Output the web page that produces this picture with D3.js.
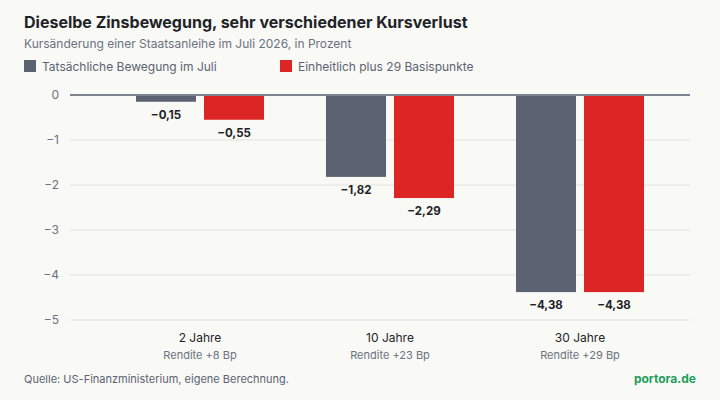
<!DOCTYPE html>
<html>
<head>
<meta charset="utf-8">
<script src="https://cdn.jsdelivr.net/npm/d3@7"></script>
<style>
  body { margin: 0; background: #f9f9f6; }
  svg { display: block; font-family: Inter, "Noto Sans", sans-serif; }
</style>
</head>
<body>
<svg id="chart" width="720" height="400"></svg>
<script>
// data
let categories = ["2 Jahre", "10 Jahre", "30 Jahre"];
let subLabels = ["Rendite +8 Bp", "Rendite +23 Bp", "Rendite +29 Bp"];
let seriesNames = ["Tatsächliche Bewegung im Juli", "Einheitlich plus 29 Basispunkte"];
let actual = [-0.15, -1.82, -4.38];
let uniform = [-0.55, -2.29, -4.38];
let yTicks = [0, -1, -2, -3, -4, -5];

let colors = ["#5b6372", "#dc2626"];
let svg = d3.select("#chart");

svg.append("rect").attr("width", 720).attr("height", 400).attr("fill", "#f9f9f6");

// header
svg.append("text").attr("x", 24).attr("y", 28)
  .attr("font-size", 16).attr("font-weight", 700).attr("fill", "#1f2328")
  .text("Dieselbe Zinsbewegung, sehr verschiedener Kursverlust");
svg.append("text").attr("x", 24).attr("y", 48)
  .attr("font-size", 12).attr("fill", "#6b7280")
  .text("Kursänderung einer Staatsanleihe im Juli 2026, in Prozent");

let legendX = [24, 280];
let legend = svg.selectAll(".legend").data(seriesNames).enter().append("g")
  .attr("transform", (d, i) => "translate(" + legendX[i] + ",60)");
legend.append("rect").attr("width", 12).attr("height", 12).attr("fill", (d, i) => colors[i]);
legend.append("text").attr("x", 18).attr("y", 10.5)
  .attr("font-size", 12).attr("fill", "#5b6372").text(d => d);

// scales
let x = d3.scaleBand().domain(categories).range([105, 675]);
let y = d3.scaleLinear().domain([0, -5]).range([95, 320]);
let inner = d3.scaleBand().domain([0, 1]).range([0, 128]).paddingInner(8 / 68);

// grid
svg.append("g").selectAll("line").data(yTicks.filter(t => t !== 0)).enter().append("line")
  .attr("x1", 70).attr("x2", 690)
  .attr("y1", d => y(d)).attr("y2", d => y(d))
  .attr("stroke", "#eaeae5").attr("stroke-width", 1.5);

let yAxis = svg.append("g").attr("transform", "translate(62,0)")
  .call(d3.axisLeft(y).tickValues(yTicks).tickSize(0).tickFormat(d => d3.format("d")(d).replace("-", "\u2212")));
yAxis.select(".domain").remove();
yAxis.selectAll("text").attr("font-size", 12).attr("fill", "#6b7280").attr("font-family", "Inter, sans-serif");

// bars
let rows = categories.map((c, i) => ({ c: c, vals: [actual[i], uniform[i]] }));
let groups = svg.selectAll(".grp").data(rows).enter().append("g")
  .attr("transform", d => "translate(" + (x(d.c) + x.bandwidth() / 2 - 64) + ",0)");

groups.selectAll("rect").data(d => d.vals).enter().append("rect")
  .attr("x", (d, i) => inner(i))
  .attr("y", y(0))
  .attr("width", inner.bandwidth())
  .attr("height", d => y(d) - y(0))
  .attr("fill", (d, i) => colors[i]);

groups.selectAll(".val").data(d => d.vals).enter().append("text")
  .attr("x", (d, i) => inner(i) + inner.bandwidth() / 2)
  .attr("y", d => y(d) + 17)
  .attr("text-anchor", "middle").attr("font-size", 11.5).attr("font-weight", 700)
  .attr("fill", "#1f2328")
  .text(d => d.toFixed(2).replace(".", ",").replace("-", "\u2212"));

// zero line
svg.append("line").attr("x1", 70).attr("x2", 690)
  .attr("y1", y(0)).attr("y2", y(0))
  .attr("stroke", "#7d8590").attr("stroke-width", 2);

// category labels
svg.selectAll(".cat").data(categories).enter().append("text")
  .attr("x", d => x(d) + x.bandwidth() / 2).attr("y", 342)
  .attr("text-anchor", "middle").attr("font-size", 12).attr("fill", "#1f2328")
  .text(d => d);
svg.selectAll(".sub").data(subLabels).enter().append("text")
  .attr("x", (d, i) => x(categories[i]) + x.bandwidth() / 2).attr("y", 359)
  .attr("text-anchor", "middle").attr("font-size", 11).attr("fill", "#6b7280")
  .text(d => d);

// footer
svg.append("text").attr("x", 24).attr("y", 383)
  .attr("font-size", 11).attr("fill", "#5b6372")
  .text("Quelle: US-Finanzministerium, eigene Berechnung.");
svg.append("text").attr("x", 696).attr("y", 383).attr("text-anchor", "end")
  .attr("font-size", 12).attr("font-weight", 700).attr("fill", "#1e9e5c")
  .text("portora.de");
</script>
</body>
</html>
